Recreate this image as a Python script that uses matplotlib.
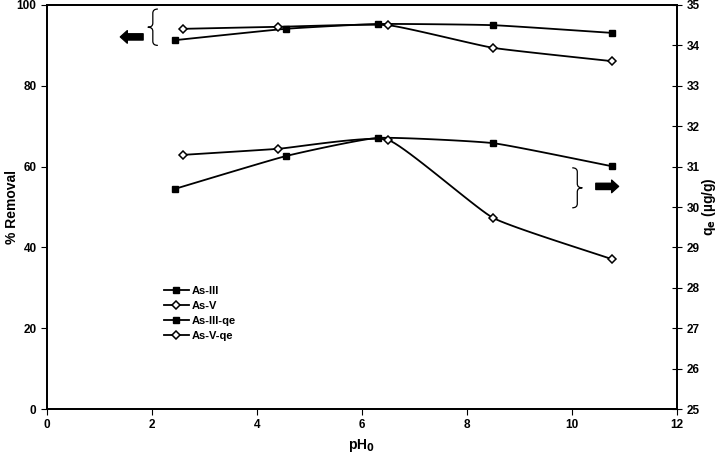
import numpy as np
import matplotlib.pyplot as plt
from matplotlib.path import Path
from matplotlib.patches import PathPatch

plt.rcParams['font.family'] = ['Liberation Sans', 'DejaVu Sans']
plt.rcParams['font.weight'] = 'bold'

# pH values and readings taken off the figure
ph_as3 = [2.44, 4.55, 6.30, 8.50, 10.76]
ph_as5 = [2.59, 4.40, 6.50, 8.50, 10.76]
removal_as3 = [91.3, 94.1, 95.3, 95.0, 93.1]
removal_as5 = [94.1, 94.6, 95.0, 89.4, 86.1]
qe_as3 = [30.45, 31.26, 31.71, 31.58, 31.01]
qe_as5 = [31.29, 31.44, 31.66, 29.73, 28.71]


def smooth(x, y, n=20, k=0.22):
    # cardinal spline through the points, a softer version of Excel's smoothed line
    x = np.asarray(x, float)
    y = np.asarray(y, float)
    px = np.concatenate([[2 * x[0] - x[1]], x, [2 * x[-1] - x[-2]]])
    py = np.concatenate([[2 * y[0] - y[1]], y, [2 * y[-1] - y[-2]]])
    t = np.linspace(0, 1, n)
    h00 = 2 * t ** 3 - 3 * t ** 2 + 1
    h10 = t ** 3 - 2 * t ** 2 + t
    h01 = -2 * t ** 3 + 3 * t ** 2
    h11 = t ** 3 - t ** 2
    xs, ys = [], []
    for i in range(1, len(px) - 2):
        for p, out in ((px, xs), (py, ys)):
            m1 = k * (p[i + 1] - p[i - 1])
            m2 = k * (p[i + 2] - p[i])
            out.extend(h00 * p[i] + h10 * m1 + h01 * p[i + 1] + h11 * m2)
    return xs, ys


fig = plt.figure(figsize=(7.2, 4.54), dpi=100)
ax = fig.add_axes([0.0653, 0.0991, 0.8747, 0.8899])
ax2 = ax.twinx()

sq = dict(marker='s', color='black', mfc='black', mec='black', ms=5, lw=1.3)
dm = dict(marker='D', color='black', mfc='white', mec='black', ms=3.6, mew=1.1, lw=1.3)

handles = []
for axis, xs, ys, style, name in [
    (ax, ph_as3, removal_as3, sq, 'As-III'),
    (ax, ph_as5, removal_as5, dm, 'As-V'),
    (ax2, ph_as3, qe_as3, sq, 'As-III-qe'),
    (ax2, ph_as5, qe_as5, dm, 'As-V-qe'),
]:
    cx, cy = smooth(xs, ys)
    axis.plot(cx, cy, color='black', lw=1.3, zorder=2)
    axis.plot(xs, ys, ls='none', zorder=3, **{k: v for k, v in style.items() if k != 'lw'})
    h, = axis.plot([], [], label=name, **style)
    handles.append(h)

ax.set_xlim(0, 12)
ax.set_ylim(0, 100)
ax2.set_ylim(25, 35)
ax.set_xticks(range(0, 13, 2))
ax.set_yticks(range(0, 101, 20))
ax2.set_yticks(range(25, 36))

ax.set_xlabel('pH$_\\mathbf{0}$', fontsize=10, fontweight='bold')
ax.set_ylabel('% Removal', fontsize=10, fontweight='bold')
ax2.set_ylabel('q$_\\mathbf{e}$ (\u00b5g/g)', fontsize=10, fontweight='bold')
ax.xaxis.set_label_coords(0.5, -0.07)
ax.yaxis.set_label_coords(-0.045, 0.5)
ax2.yaxis.set_label_coords(1.037, 0.5)

for a in (ax, ax2):
    for s in a.spines.values():
        s.set_linewidth(1.3)
    a.tick_params(labelsize=8.5, width=0.8, length=4)
ax2.tick_params(axis='y', direction='inout', length=7)

ax.legend(handles=handles, loc='upper left', bbox_to_anchor=(0.17, 0.33),
          frameon=False, fontsize=8, handlelength=2.2, handletextpad=0.3,
          labelspacing=0.45)


def brace(axis, x, y0, y1, right):
    # curly brace in axes fraction units
    w = 0.008 if right else -0.008
    m = (y0 + y1) / 2
    verts = [(x - w, y0), (x, y0), (x, y0 + 0.01), (x, m - 0.01), (x, m), (x + w, m),
             (x, m), (x, m + 0.01), (x, y1 - 0.01), (x, y1), (x - w, y1)]
    codes = [Path.MOVETO, Path.CURVE3, Path.CURVE3, Path.LINETO, Path.CURVE3, Path.CURVE3,
             Path.CURVE3, Path.CURVE3, Path.LINETO, Path.CURVE3, Path.CURVE3]
    axis.add_patch(PathPatch(Path(verts, codes), fc='none', ec='black', lw=0.9,
                             transform=axis.transAxes, clip_on=False))


brace(ax2, 0.168, 0.90, 0.99, False)
brace(ax2, 0.842, 0.498, 0.597, True)

arrow = dict(arrowstyle='simple,head_length=0.5,head_width=0.9,tail_width=0.45',
             fc='black', ec='black')
ax2.annotate('', xy=(0.112, 0.921), xytext=(0.157, 0.921),
             xycoords='axes fraction', arrowprops=arrow)
ax2.annotate('', xy=(0.912, 0.551), xytext=(0.867, 0.551),
             xycoords='axes fraction', arrowprops=arrow)

fig.savefig('out.png', dpi=100)
